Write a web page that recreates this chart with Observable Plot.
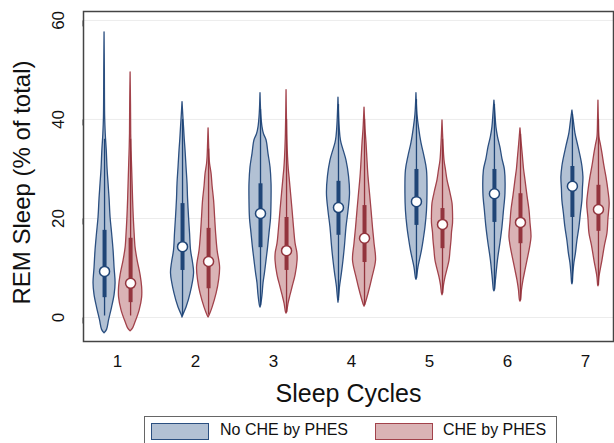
<!DOCTYPE html>
<html><head><meta charset="utf-8">
<script src="https://cdn.jsdelivr.net/npm/d3@7"></script>
<script src="https://cdn.jsdelivr.net/npm/@observablehq/plot@0.6"></script>
<style>
body{margin:0;background:#fff;font-family:"Liberation Sans",Arial,Helvetica,sans-serif;}
#wrap{position:relative;width:614px;height:443px;overflow:hidden;}
#legend{position:absolute;left:144px;top:416px;width:411px;height:32px;border:1px solid #666;background:#fff;}
.sw{position:absolute;top:6px;width:56px;height:15px;border:1.5px solid;}
.lt{position:absolute;top:4px;font-size:16px;color:#111;white-space:nowrap;}
</style></head><body>
<div id="wrap"><div id="chart"></div><div id="legend"></div></div>
<script>
// ---- data ----
const cycles = [1, 2, 3, 4, 5, 6, 7];
const groups = ["No CHE by PHES", "CHE by PHES"];
const yTicks = [0, 20, 40, 60];

// violin density profiles: [REM %, density (relative width)]
const densityNoChe = [
  [[-3.2,0],[-2.5,2.5],[-0.6,4.5],[2,7.5],[4.5,10],[6.9,11],[10,10],[13.5,9],[17,7.5],[20.2,6],[24,5],[27,4],[30,3],[33.7,2.2],[37,1.2],[40.4,0.6],[45,0.4],[50,0.3],[57.6,0]],
  [[0,0],[0.4,0.6],[2,4],[4.8,8],[8.9,11.5],[11,10.5],[13.5,8.5],[17,7.5],[20.2,6.5],[24,5.5],[27,5],[30.3,4],[33.7,3],[36,2.2],[38.4,1.5],[41,0.7],[43.5,0]],
  [[2,0],[2.4,0.6],[4.5,2],[6.9,3],[9,4.5],[11.5,6],[14,7.5],[17,9],[20,10.5],[23.6,11],[27,11],[30.3,10],[33,8],[35.8,6],[37,3.5],[38.4,2],[41,0.8],[45.3,0]],
  [[3,0],[4.5,0.8],[6.1,1.5],[9,3.5],[11.5,5],[14.5,6.5],[18.2,8],[21.5,10],[25,11.5],[28.5,10.5],[31.7,8],[33.5,5.5],[35.2,3],[36.4,2],[39,1],[44.4,0]],
  [[7.6,0],[7.9,0.5],[10.1,2],[13.5,5.5],[16,7.5],[18.2,9],[21.5,10.5],[25,11],[29.7,10.5],[32.5,8],[35.2,5],[38.4,2.5],[41,1],[45.3,0]],
  [[5.3,0],[5.5,0.5],[7.5,1.5],[11.5,3.5],[15,6],[18.2,8],[21.5,9.5],[25,11],[29.7,10.5],[32,8],[34.3,6],[36.5,3.5],[38.4,2],[41,1],[43.8,0]],
  [[6.7,0],[6.9,0.3],[8.9,1],[11,2],[12.9,3.5],[15.5,5],[18.2,7],[21,8.5],[23.6,10],[26,10.5],[28.3,11],[30.5,10],[31.7,9],[34.5,6],[37.2,3],[39.5,1.5],[41.8,0]]
];
const densityChe = [
  [[-2.8,0],[-2.2,2.5],[-1.2,4.5],[1.4,9],[4,11.5],[6.1,11.5],[8.5,10],[11.5,7],[14,5],[17,4],[20,3.2],[23.6,2.5],[27,2],[30.3,1.5],[33.5,1],[37,0.6],[43,0.4],[49.5,0]],
  [[0,0],[0.4,1],[2,4],[4.8,8],[7.5,10.5],[10.1,11.5],[13.5,9],[17,7.5],[20.3,6.5],[23.6,5.5],[26.5,4],[29,3],[31,1.5],[32.3,1],[35,0.5],[38.2,0]],
  [[0.8,0],[1,0.5],[2.8,2],[4.5,4],[6.1,6],[8.5,9],[11.5,11],[13,10.8],[14.9,9],[18,7.5],[21.6,6],[25,4.5],[28.3,3],[30,2.2],[32.3,1.5],[36,0.8],[40,0.4],[45.9,0]],
  [[2.2,0],[2.4,0.5],[4.8,4],[8.1,8],[11.5,11.5],[14.9,10],[18,8.5],[21.6,7],[25,5.5],[28.3,4],[31.5,3],[35.2,2],[38,1],[42.4,0]],
  [[4.5,0],[4.8,0.5],[6.5,1.5],[8.1,3],[11.5,7],[13.5,8],[15.6,9],[17.2,9.5],[19,10.5],[21,10.5],[23,10],[25.5,7.5],[27.7,5],[29.7,3.5],[31.7,2],[35,1],[39.8,0]],
  [[3.2,0],[3.4,0.5],[5.5,1.5],[7.5,3],[9.5,5],[11.5,7],[14,9.5],[16.2,11],[19,10],[21.6,9],[24.5,7],[27.7,5],[30,3.5],[32.3,2.5],[35,1.3],[38.2,0]],
  [[6.3,0],[6.5,0.3],[8.1,1],[11.5,4],[14.5,6.5],[17,9],[20,10],[23,11.2],[25.5,10],[28.3,8],[30.5,6],[33.1,4],[34.8,2.5],[36.4,1],[40,0.4],[43.8,0]]
];

const medianNoChe = [9.3, 14.3, 21, 22.2, 23.4, 25, 26.5];
const q1NoChe     = [4.0, 9.5, 14.1, 16.6, 18.6, 19.2, 20.2];
const q3NoChe     = [17.6, 23, 27, 27.5, 29.9, 29.9, 30.5];
const loNoChe     = [0.3, 0.3, 2.4, 3.4, 7.9, 5.6, 7.0];
const hiNoChe     = [36, 40, 42, 43, 44, 43, 41];

const medianChe = [6.9, 11.3, 13.5, 16, 18.8, 19.2, 21.8];
const q1Che     = [3.0, 5.8, 9.5, 11.1, 13.9, 14.9, 17.4];
const q3Che     = [16, 18, 20.2, 22.6, 22, 25, 26.7];
const loChe     = [0.3, 0.5, 1, 2.4, 4.8, 3.4, 6.5];
const hiChe     = [36, 34, 40, 40, 36, 37, 40];

// ---- styling ----
const blueFill = "#b2c1d4", blueStroke = "#2b4f80", blueBox = "#1f4577";
const redFill = "#dab3b5", redStroke = "#a2424b", redBox = "#93343d";
const offset = 0.167;     // dodge within a cycle
const widthK = 1 / 77.8;  // density -> x units

function violinRows(profiles, sign) {
  const rows = [];
  profiles.forEach((prof, i) => {
    const c = cycles[i] + sign * offset;
    prof.forEach(([v, d]) => rows.push({id: i, c, v, d}));
  });
  return rows;
}
function boxRows(med, q1, q3, lo, hi, sign) {
  return cycles.map((cy, i) => ({c: cy + sign * offset, med: med[i], q1: q1[i], q3: q3[i], lo: lo[i], hi: hi[i]}));
}
const vNo = violinRows(densityNoChe, -1), vChe = violinRows(densityChe, 1);
const bNo = boxRows(medianNoChe, q1NoChe, q3NoChe, loNoChe, hiNoChe, -1);
const bChe = boxRows(medianChe, q1Che, q3Che, loChe, hiChe, 1);

function violin(rows, fill, stroke) {
  return Plot.areaX(rows, {y: "v", x1: r => r.c - r.d * widthK, x2: r => r.c + r.d * widthK, z: "id",
    fill, stroke, strokeWidth: 1.3, curve: "catmull-rom"});
}
function box(rows, col) {
  return [
    Plot.ruleX(rows, {x: "c", y1: "lo", y2: "hi", stroke: col, strokeWidth: 1.3}),
    Plot.ruleX(rows, {x: "c", y1: "q1", y2: "q3", stroke: col, strokeWidth: 4}),
    Plot.dot(rows, {x: "c", y: "med", r: 5, fill: "white", stroke: col, strokeWidth: 1.5})
  ];
}

const chart = Plot.plot({
  width: 614, height: 410,
  marginLeft: 83, marginRight: 1, marginTop: 11, marginBottom: 69,
  style: {fontFamily: "Liberation Sans, Arial, sans-serif", color: "#111", background: "white"},
  x: {domain: [0.563, 7.36]},
  y: {domain: [-4.85, 61.8]},
  marks: [
    Plot.ruleY(yTicks, {stroke: "#ececec", strokeWidth: 1}),
    violin(vNo, blueFill, blueStroke),
    violin(vChe, redFill, redStroke),
    box(bNo, blueBox),
    box(bChe, redBox),
    Plot.frame({stroke: "#444", strokeWidth: 1.5}),
    Plot.axisY(yTicks, {tickSize: 6, tickPadding: 19, rotate: -90, textAnchor: "middle", fontSize: 17, label: null, stroke: "#444"}),
    Plot.axisX(cycles, {tickSize: 0, tickPadding: 13, fontSize: 17, label: null}),
    Plot.text(["REM Sleep (% of total)"], {frameAnchor: "left", textAnchor: "middle", lineAnchor: "middle", rotate: -90, dx: -61, dy: 6, fontSize: 24, fill: "#111"}),
    Plot.text(["Sleep Cycles"], {frameAnchor: "bottom", textAnchor: "middle", lineAnchor: "middle", dy: 52, fontSize: 25, fill: "#111"})
  ]
});
document.getElementById("chart").appendChild(chart);

// legend
const lg = document.getElementById("legend");
const items = [
  {label: groups[0], fill: blueFill, stroke: blueStroke, sx: 6, tx: 75},
  {label: groups[1], fill: redFill, stroke: redStroke, sx: 230, tx: 298}
];
items.forEach(it => {
  const s = document.createElement("div");
  s.className = "sw"; s.style.left = it.sx + "px"; s.style.background = it.fill; s.style.borderColor = it.stroke;
  lg.appendChild(s);
  const t = document.createElement("div");
  t.className = "lt"; t.style.left = it.tx + "px"; t.textContent = it.label;
  lg.appendChild(t);
});
</script>
</body></html>
